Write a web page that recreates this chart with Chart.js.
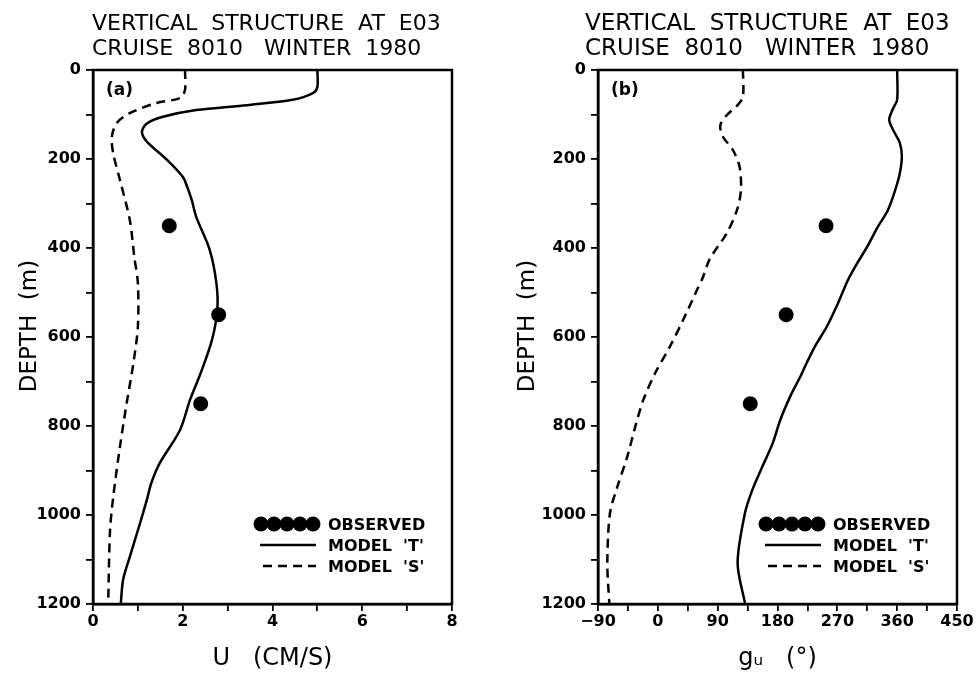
<!DOCTYPE html>
<html><head><meta charset="utf-8">
<script src="https://cdn.jsdelivr.net/npm/chart.js@4/dist/chart.umd.min.js"></script>
<style>
html,body{margin:0;padding:0;background:#fff;}
#wrap{position:relative;width:977px;height:675px;background:#fff;}
.panel{position:absolute;top:0;height:675px;}
#pa{left:0;width:490px;}
#pb{left:490px;width:487px;}
</style></head><body>
<div id="wrap"><div class="panel" id="pa"><canvas id="ca"></canvas></div><div class="panel" id="pb"><canvas id="cb"></canvas></div></div>
<script>
// ---------- data ----------
const titleLines = ["VERTICAL  STRUCTURE  AT  E03", "CRUISE  8010   WINTER  1980"];
const legendLabels = ["OBSERVED", "MODEL  'T'", "MODEL  'S'"];
const panelLabels = ["(a)", "(b)"];

const obsDepth = [350, 550, 750];
const obsU = [1.7, 2.8, 2.4];
const obsG = [253, 193, 139];

// panel (a): amplitude U (cm/s)
const depthT_a = [0, 38, 52, 67, 79, 90, 105, 120, 139, 161, 202, 240, 263, 292, 330, 404, 479, 539, 607, 681, 742, 809, 883, 928, 966, 1018, 1094, 1146, 1198];
const uT = [5.0, 5.0, 4.9, 4.45, 3.43, 2.3, 1.56, 1.2, 1.09, 1.2, 1.65, 2.0, 2.1, 2.2, 2.3, 2.6, 2.75, 2.77, 2.65, 2.4, 2.16, 1.94, 1.49, 1.3, 1.2, 1.05, 0.82, 0.67, 0.62];
const depthS_a = [0, 45, 63, 74, 97, 119, 150, 187, 247, 337, 420, 479, 577, 659, 749, 847, 960, 1034, 1190];
const uS = [2.05, 2.05, 1.94, 1.42, 0.82, 0.53, 0.42, 0.45, 0.6, 0.82, 0.92, 1.0, 1.0, 0.9, 0.75, 0.6, 0.45, 0.38, 0.34];

// panel (b): phase g_u (degrees)
const depthT_b = [0, 67, 86, 112, 135, 164, 195, 232, 270, 315, 352, 397, 434, 472, 524, 577, 622, 658, 690, 734, 787, 838, 892, 944, 996, 1108, 1198];
const gT = [360, 360, 354, 348, 354, 364, 367, 364, 357, 346, 331, 315, 300, 286, 271, 254, 236, 224, 214, 199, 184, 173, 157, 142, 131, 120, 131];
const depthS_b = [0, 60, 79, 101, 124, 150, 180, 218, 270, 315, 366, 425, 465, 494, 562, 622, 681, 742, 802, 869, 937, 996, 1108, 1198];
const gS = [128, 128, 120, 104, 94, 98, 113, 123, 125, 119, 104, 78, 68, 59, 38, 18, -4, -22, -34, -46, -61, -72, -76, -73];

const xTicksA = {min: 0, max: 8, step: 1, labelEvery: 2};
const xTicksB = {min: -90, max: 450, step: 45, labelEvery: 90};
const depthTicks = {min: 0, max: 1200, step: 100, labelEvery: 200};

// ---------- helpers ----------
const FONT = '"DejaVu Sans", "Liberation Sans", sans-serif';
const pts = (xs, ys) => xs.map((x, i) => ({x: x, y: ys[i]}));

const framePlugin = {
  id: 'frameAndText',
  afterDraw(chart, args, o) {
    const ctx = chart.ctx, a = chart.chartArea;
    ctx.save();
    ctx.strokeStyle = '#000';
    ctx.lineWidth = 2.5;
    ctx.strokeRect(a.left, a.top, a.right - a.left, a.bottom - a.top);
    // title
    ctx.fillStyle = '#000';
    ctx.textAlign = 'left';
    ctx.textBaseline = 'alphabetic';
    ctx.font = o.titleSize + 'px ' + FONT;
    titleLines.forEach((t, i) => ctx.fillText(t, o.titleX, 30 + i * 25));
    // panel label
    ctx.font = 'bold 17px ' + FONT;
    ctx.fillText(o.panel, a.left + 13, a.top + 25);
    // legend
    ctx.font = 'bold 16px ' + FONT;
    const tx = a.left + 235;
    legendLabels.forEach((lab, i) => {
      const y = a.top + 454 + i * 21;
      ctx.fillText(lab, tx, y + 6);
      const ds = chart.data.datasets[i];
      if (i === 0) {
        for (let k = 0; k < 5; k++) {
          ctx.beginPath();
          ctx.arc(tx - 67 + k * 13, y, ds.pointRadius, 0, 2 * Math.PI);
          ctx.fill();
        }
      } else {
        ctx.lineWidth = ds.borderWidth;
        ctx.setLineDash(ds.borderDash || []);
        ctx.beginPath();
        ctx.moveTo(tx - (i === 1 ? 68 : 65), y);
        ctx.lineTo(tx - 12, y);
        ctx.stroke();
        ctx.setLineDash([]);
      }
    });
    ctx.restore();
  }
};

function makeChart(id, obsX, tX, tY, sX, sY, xt, xTitle, opts) {
  return new Chart(document.getElementById(id), {
    type: 'scatter',
    data: {
      datasets: [
        {label: legendLabels[0], data: pts(obsX, obsDepth), showLine: false,
         pointRadius: 7.5, pointHoverRadius: 7.5, backgroundColor: '#000', borderWidth: 0},
        {label: legendLabels[1], data: pts(tX, tY), showLine: true, pointRadius: 0,
         borderColor: '#000', borderWidth: 2.5, tension: 0.3, fill: false},
        {label: legendLabels[2], data: pts(sX, sY), showLine: true, pointRadius: 0,
         borderColor: '#000', borderWidth: 2.5, borderDash: [9, 6], tension: 0.3, fill: false}
      ]
    },
    options: {
      responsive: true, maintainAspectRatio: false, animation: false, devicePixelRatio: 1,
      layout: {padding: {top: 70, right: opts.padRight, bottom: 0, left: 0}},
      plugins: {legend: {display: false}, tooltip: {enabled: false}, title: {display: false},
        frameAndText: {titleX: opts.titleX, titleSize: opts.titleSize, panel: opts.panel}},
      scales: {
        x: {
          type: 'linear', position: 'bottom', min: xt.min, max: xt.max,
          afterFit: s => { s.height = 71; },
          ticks: {stepSize: xt.step, autoSkip: false, maxRotation: 0, color: '#000', padding: 1,
            font: {family: FONT, size: 16, weight: 'bold'},
            callback: v => ((v - xt.min) % xt.labelEvery === 0 ? String(v).replace('-', '\u2212') : '')},
          grid: {drawOnChartArea: false, drawTicks: true, tickLength: 7, color: '#000', lineWidth: 1.8},
          border: {display: true, color: '#000', width: 2.5},
          title: {display: true, text: xTitle, color: '#000', font: {family: FONT, size: 24}, padding: {top: 0, bottom: 2}}
        },
        y: {
          type: 'linear', position: 'left', reverse: true, min: depthTicks.min, max: depthTicks.max,
          afterFit: s => { s.width = opts.yWidth; },
          ticks: {stepSize: depthTicks.step, autoSkip: false, color: '#000', padding: 5,
            font: {family: FONT, size: 16, weight: 'bold'},
            callback: v => (v % depthTicks.labelEvery === 0 ? String(v) : '')},
          grid: {drawOnChartArea: false, drawTicks: true, tickLength: 7, color: '#000', lineWidth: 1.8},
          border: {display: true, color: '#000', width: 2.5},
          title: {display: true, text: '   DEPTH  (m)', color: '#000', font: {family: FONT, size: 23}, padding: {top: opts.yTitlePad, bottom: 0}}
        }
      }
    },
    plugins: [framePlugin]
  });
}

makeChart('ca', obsU, uT, depthT_a, uS, depthS_a, xTicksA, 'U   (CM/S)',
  {padRight: 38, yWidth: 93, yTitlePad: 16, titleX: 92, titleSize: 22, panel: panelLabels[0]});
makeChart('cb', obsG, gT, depthT_b, gS, depthS_b, xTicksB, 'g\u1D64   (\u00B0)',
  {padRight: 20, yWidth: 108, yTitlePad: 24, titleX: 95, titleSize: 23, panel: panelLabels[1]});
</script>
</body></html>
